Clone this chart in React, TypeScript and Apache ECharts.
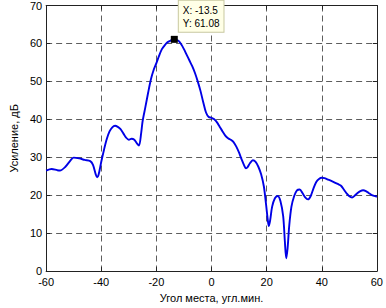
import React, { useEffect, useRef } from "react";
import * as echarts from "echarts";

const angles = [
  -60, -58, -56, -55, -53, -51, -50, -48, -46, -44, -43, -42, -41.5, -41, -40, -39, -38, -37, -36, -35,
  -34, -33, -32, -31, -30, -29, -28, -27, -26.3, -25.5, -25, -24, -23, -22, -21, -20, -19, -18, -17, -16,
  -15, -13.5, -12, -11, -10, -9, -8, -7, -6, -5, -4, -3, -2, -1, 0, 1, 2, 3, 4, 5,
  6, 7, 8, 9, 10, 11, 12, 12.5, 13, 14, 15, 16, 17, 18, 19, 19.8, 20.5, 20.8, 21.3, 22,
  23, 24, 25, 26, 26.6, 27.1, 27.6, 28.2, 29, 30, 31, 32, 33, 34, 35, 36, 37, 38, 39, 40,
  41, 42, 44, 46, 47, 48, 49, 50, 51, 52, 53, 54, 55, 56, 57, 58, 59, 60,
];
const gains = [
  26.5, 26.9, 26.6, 26.5, 27.5, 29.3, 29.9, 29.7, 29.3, 29.0, 28.0, 25.5, 24.7, 25.3, 28.8, 32.0, 34.8, 36.8, 37.9, 38.3,
  38.0, 37.4, 36.3, 35.2, 34.6, 34.9, 34.6, 33.6, 33.1, 36.5, 39.5, 43.2, 47.0, 50.5, 53.0, 54.8, 56.8, 58.5, 59.5, 60.3,
  60.7, 61.08, 60.7, 59.8, 58.5, 57.0, 55.5, 54.0, 52.2, 50.0, 47.5, 44.5, 41.8, 40.6, 40.4, 40.0, 39.2, 38.0, 36.8, 35.7,
  35.0, 34.6, 34.0, 32.8, 31.2, 29.3, 27.6, 27.1, 27.3, 28.5, 29.2, 28.8, 27.5, 25.5, 22.3, 17.5, 13.0, 11.9, 13.5, 17.0,
  19.2, 19.8, 18.5, 14.5, 8.0, 3.4, 6.0, 12.0, 17.0, 19.8, 21.3, 21.5, 20.6, 19.4, 18.9, 19.8, 21.8, 23.5, 24.3, 24.6,
  24.5, 24.2, 23.6, 22.9, 22.5, 21.5, 20.5, 19.7, 19.4, 19.9, 20.6, 21.1, 21.3, 21.1, 20.6, 20.1, 19.8, 19.6,
];
const tipPoint = [-13.5, 61.08];
const tipLabels = ["X: -13.5", "Y: 61.08"];
const xTitle = "Угол места, угл.мин.";
const yTitle = "Усиление, дБ";

export default function App() {
  const ref = useRef<HTMLDivElement>(null);
  useEffect(() => {
    if (!ref.current) return;
    const chart = echarts.init(ref.current, null, { renderer: "svg" });
    const font = "Liberation Sans, Arial, sans-serif";
    const axisCommon = {
      type: "value",
      axisLine: { show: true, onZero: false, lineStyle: { color: "#222", width: 1 } },
      axisTick: { show: true, inside: true, length: 4, lineStyle: { color: "#222" } },
    };
    const gridLine = { show: true, lineStyle: { color: "#333", type: [6, 4], width: 0.8 } };
    chart.setOption({
      animation: false,
      backgroundColor: "#fff",
      textStyle: { fontFamily: font },
      grid: { left: 31, right: 6, top: 5, bottom: 28, containLabel: false },
      xAxis: [
        {
          ...axisCommon,
          min: -60, max: 60, interval: 20,
          position: "bottom",
          name: xTitle, nameLocation: "middle", nameGap: 19,
          nameTextStyle: { color: "#000", fontSize: 11, fontFamily: font },
          axisLabel: { color: "#000", fontSize: 11, margin: 5, fontFamily: font },
          splitLine: gridLine,
        },
        {
          ...axisCommon,
          min: -60, max: 60, interval: 20,
          position: "top",
          axisLabel: { show: false },
          splitLine: { show: false },
        },
      ],
      yAxis: [
        {
          ...axisCommon,
          min: 0, max: 70, interval: 10,
          position: "left",
          name: yTitle, nameLocation: "middle", nameGap: 25, nameRotate: 90,
          nameTextStyle: { color: "#000", fontSize: 11, fontFamily: font },
          axisLabel: { color: "#000", fontSize: 11, margin: 4, fontFamily: font },
          splitLine: gridLine,
        },
        {
          ...axisCommon,
          min: 0, max: 70, interval: 10,
          position: "right",
          axisLabel: { show: false },
          splitLine: { show: false },
        },
      ],
      series: [
        {
          type: "line",
          data: angles.map((a, i) => [a, gains[i]]),
          smooth: 0.3,
          showSymbol: false,
          lineStyle: { color: "#0000e6", width: 1.9 },
          markPoint: {
            symbol: "rect",
            symbolSize: 7,
            itemStyle: { color: "#000" },
            data: [
              {
                coord: tipPoint,
                label: {
                  show: true,
                  formatter: tipLabels.join("\n"),
                  position: [8, -35],
                  align: "left",
                  verticalAlign: "top",
                  color: "#000",
                  fontSize: 10,
                  lineHeight: 13,
                  fontFamily: font,
                  backgroundColor: "#ffffe6",
                  borderColor: "#c8c8a0",
                  borderWidth: 1,
                  padding: [3, 4, 2, 4],
                },
              },
            ],
          },
        },
      ],
    });
    return () => chart.dispose();
  }, []);
  return <div ref={ref} style={{ width: 386, height: 308, position: "absolute", left: 0, top: 0 }} />;
}
